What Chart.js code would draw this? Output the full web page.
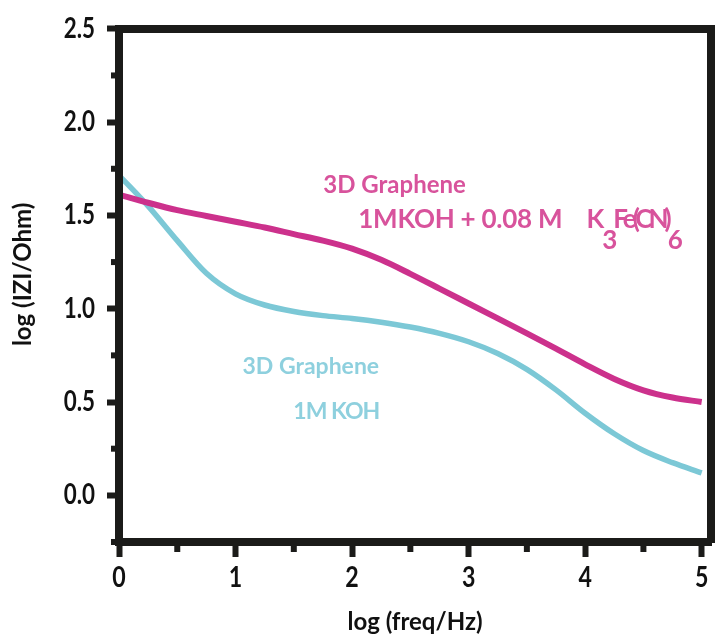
<!DOCTYPE html>
<html><head><meta charset="utf-8">
<script src="https://cdn.jsdelivr.net/npm/chart.js@4/dist/chart.umd.min.js"></script>
<style>html,body{margin:0;padding:0;background:#fff;}</style>
</head><body>
<canvas id="c" width="718" height="634"></canvas>
<script>
// ---- data ----
const logFreq    = [0,0.25,0.5,0.75,1,1.25,1.5,1.75,2,2.25,2.5,2.75,3,3.25,3.5,3.75,4,4.25,4.5,4.75,5];
const kohFerri   = [1.612,1.568,1.528,1.497,1.466,1.435,1.40,1.365,1.322,1.262,1.187,1.108,1.028,0.948,0.868,0.786,0.702,0.624,0.563,0.524,0.50];
const kohOnly    = [1.715,1.55,1.365,1.19,1.08,1.02,0.985,0.963,0.948,0.928,0.902,0.868,0.823,0.76,0.675,0.565,0.44,0.33,0.24,0.175,0.12];
const xTickVals  = [0,1,2,3,4,5];
const yTickVals  = [0,0.5,1.0,1.5,2.0,2.5];
const xMinorVals = [0.5,1.5,2.5,3.5,4.5];
const yMinorVals = [-0.25,0.25,0.75,1.25,1.75,2.25];
const seriesNames = ['3D Graphene 1M KOH + 0.08 M K3Fe(CN)6','3D Graphene 1M KOH'];

const FRAME = '#1b1b19';
const MAG = '#cc318c', MAG_T = '#d8539c';
const CYN = '#7cc8d6', CYN_T = '#8ed0de';
const FONT = "Lato,'Liberation Sans',sans-serif";
const SQ = 0.8;

const toXY = (ys) => logFreq.map((x,i)=>({x:x,y:ys[i]}));

// horizontally condensed tick labels (reference uses a narrow face)
function squeezeLabels(scale){
  scale.drawLabels = function(area){
    const c = this.ctx;
    for (const item of this.getLabelItems(area)){
      const o = item.options; const t = o.translation || [0,0];
      c.save(); c.translate(t[0], t[1]); c.scale(SQ,1);
      Chart.helpers.renderText(c, item.label, 0, item.textOffset, item.font, Object.assign({}, o, {translation:[0,0]}));
      c.restore();
    }
  };
}
const condensed = {
  id:'condensed',
  beforeDraw(chart){
    const {x,y} = chart.scales;
    if (!x._sq){ x._sq = true; squeezeLabels(x); }
    if (!y._sq){ y._sq = true; squeezeLabels(y);
      const orig = y.drawTitle;
      y.drawTitle = function(){ this.ctx.save(); this.ctx.translate(0,-11); orig.call(this); this.ctx.restore(); };
    }
  }
};

const minorTicks = {
  id:'minorTicks',
  afterDraw(chart){
    const {ctx, chartArea:a, scales:{x,y}} = chart;
    ctx.save();
    ctx.strokeStyle = FRAME; ctx.lineWidth = 6; ctx.lineCap='butt';
    xMinorVals.forEach(v=>{ const px=x.getPixelForValue(v); ctx.beginPath(); ctx.moveTo(px,a.bottom); ctx.lineTo(px,a.bottom+10); ctx.stroke(); });
    yMinorVals.forEach(v=>{ const py=y.getPixelForValue(v); ctx.beginPath(); ctx.moveTo(a.left,py); ctx.lineTo(a.left-8,py); ctx.stroke(); });
    ctx.restore();
  }
};

const annotations = [
  {x:1.753, y:1.622, color:MAG_T, parts:[{t:'3D Graphene', size:24, ls:0, dy:0}]},
  {x:2.053, y:1.435, color:MAG_T, parts:[{t:'1MKOH + 0.08 M    K', size:26, ls:-0.25, dy:0, kern:-2},{t:'3', size:26, ls:0, dy:21, kern:-4},{t:'Fe(CN)', size:26, ls:-4, dy:0, kern:0},{t:'6', size:26, ls:0, dy:21, kern:0}]},
  {x:1.06, y:0.65, color:CYN_T, parts:[{t:'3D Graphene', size:23, ls:0, dy:0}]},
  {x:1.496, y:0.407, color:CYN_T, parts:[{t:'1M KOH', size:23, ls:-1, dy:0}]}
];

const textLabels = {
  id:'textLabels',
  afterDatasetsDraw(chart){
    const {ctx, scales:{x,y}} = chart;
    ctx.save();
    ctx.textAlign='left'; ctx.textBaseline='alphabetic';
    annotations.forEach(an=>{
      let px = x.getPixelForValue(an.x), py = y.getPixelForValue(an.y);
      ctx.fillStyle = an.color;
      an.parts.forEach(p=>{
        ctx.font = 'bold '+p.size+'px '+FONT;
        ctx.letterSpacing = p.ls+'px';
        ctx.fillText(p.t, px, py + p.dy);
        px += ctx.measureText(p.t).width + (p.kern||0);
      });
    });
    ctx.restore();
  }
};

new Chart(document.getElementById('c'), {
  type:'line',
  data:{ datasets:[
    {label:seriesNames[0], data:toXY(kohFerri), borderColor:MAG, borderWidth:6, pointRadius:0, cubicInterpolationMode:'monotone', fill:false, clip:0},
    {label:seriesNames[1], data:toXY(kohOnly), borderColor:CYN, borderWidth:5.5, pointRadius:0, cubicInterpolationMode:'monotone', fill:false, clip:0}
  ]},
  options:{
    responsive:false, animation:false, devicePixelRatio:1,
    layout:{padding:{left:0,right:7,top:27,bottom:0}},
    plugins:{legend:{display:false}, tooltip:{enabled:false}},
    scales:{
      x:{type:'linear', position:'bottom', min:0, max:5.08,
        afterFit:(s)=>{s.height=92;},
        afterBuildTicks:(s)=>{s.ticks = xTickVals.map(v=>({value:v}));},
        ticks:{includeBounds:false, stepSize:1, color:'#111', padding:3, font:{family:FONT, size:29, weight:'bold'}, maxRotation:0, autoSkip:false},
        grid:{display:true, drawOnChartArea:false, drawTicks:true, tickLength:15, tickWidth:6, tickColor:FRAME},
        border:{display:true, width:8, color:FRAME, z:1},
        title:{display:true, text:'log (freq/Hz)', color:'#111', font:{family:FONT, size:24, weight:'bold', lineHeight:1.0}, padding:{top:0,bottom:0}}
      },
      y:{type:'linear', position:'left', min:-0.25, max:2.5,
        afterFit:(s)=>{s.width=119;},
        afterBuildTicks:(s)=>{s.ticks = yTickVals.map(v=>({value:v}));},
        ticks:{includeBounds:false, stepSize:0.5, color:'#111', padding:12, font:{family:FONT, size:28, weight:'bold'}, callback:(v)=>Number(v).toFixed(1)},
        grid:{display:true, drawOnChartArea:false, drawTicks:true, tickLength:12, tickWidth:6, tickColor:FRAME},
        border:{display:true, width:8, color:FRAME, z:1},
        title:{display:true, text:'log (IZI/Ohm)', color:'#111', font:{family:FONT, size:24, weight:'bold', lineHeight:1.2}, padding:{top:9,bottom:0}}
      },
      xTop:{type:'linear', position:'top', display:true, afterFit:(s)=>{s.height=0;},
        ticks:{display:false}, grid:{display:false, drawTicks:false}, border:{display:true, width:8, color:FRAME, z:1}},
      yRight:{type:'linear', position:'right', display:true, afterFit:(s)=>{s.width=0;},
        ticks:{display:false}, grid:{display:false, drawTicks:false}, border:{display:true, width:8, color:FRAME, z:1}}
    }
  },
  plugins:[condensed, textLabels, minorTicks]
});
</script>
</body></html>
